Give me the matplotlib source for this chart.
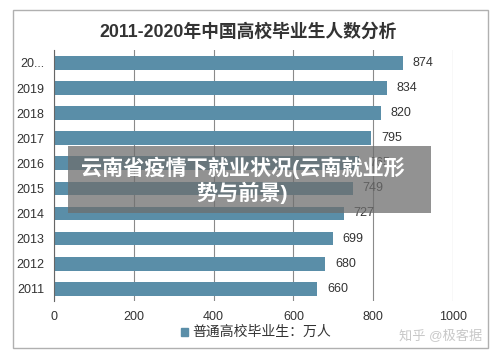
import matplotlib
matplotlib.use('Agg')
import matplotlib.pyplot as plt
from matplotlib.patches import Rectangle

plt.rcParams['font.family'] = ['Liberation Sans', 'Noto Sans CJK SC', 'DejaVu Sans']

# data
years = ['2011', '2012', '2013', '2014', '2015', '2016', '2017', '2018', '2019', '20...']
graduates = [660, 680, 699, 727, 749, 765, 795, 820, 834, 874]
xticks = [0, 200, 400, 600, 800, 1000]

title = '2011-2020年中国高校毕业生人数分析'
legend_label = '普通高校毕业生：万人'
overlay_text = '云南省疫情下就业状况(云南就业形\n势与前景)'
watermark = '知乎 @极客据'

bar_color = '#5a8ea8'

fig = plt.figure(figsize=(5, 3.6), dpi=100)
ax = fig.add_axes([0.108, 0.163, 0.798, 0.697])

pos = list(range(len(years)))
ax.barh(pos, graduates, height=0.55, color=bar_color, zorder=2)
for p, v in zip(pos, graduates):
    ax.annotate(str(v), (v, p), xytext=(7, 0), textcoords='offset points',
                va='center', ha='left', fontsize=9, color='#333333')

ax.set_xlim(0, 1000)
ax.set_ylim(-0.5, len(years) - 0.5)
ax.set_xticks(xticks)
ax.set_yticks(pos)
ax.set_yticklabels(years)
ax.tick_params(axis='both', length=0, labelsize=9, colors='#333333')
ax.tick_params(axis='x', pad=7)
ax.tick_params(axis='y', pad=7)
ax.grid(axis='x', color='#8a8a8a', linewidth=0.8, zorder=0)
for s in ['top', 'right', 'bottom']:
    ax.spines[s].set_visible(False)
ax.spines['left'].set_color('#666666')

fig.text(0.497, 0.911, title, ha='center', va='center', fontsize=12.8,
         fontweight='bold', color='#333333')

# legend
fig.patches.append(Rectangle((0.362, 0.068), 0.014, 0.02, transform=fig.transFigure,
                             color=bar_color, figure=fig))
fig.text(0.384, 0.078, legend_label, ha='left', va='center', fontsize=10, color='#333333')

# outer frame
fig.patches.append(Rectangle((0.026, 0.033), 0.95, 0.94, transform=fig.transFigure,
                             fill=False, edgecolor='#b0b0b0', linewidth=1, figure=fig))

# overlay banner
fig.patches.append(Rectangle((0.136, 0.408), 0.726, 0.186, transform=fig.transFigure,
                             facecolor='#6e6e6e', edgecolor='none', alpha=0.75,
                             zorder=5, figure=fig))
fig.text(0.485, 0.5, overlay_text, ha='center', va='center', fontsize=15.2,
         fontweight='bold', color='white', linespacing=1.15, zorder=6)

fig.text(0.882, 0.065, watermark, ha='center', va='center', fontsize=9.5,
         color='#c8c8c8')

fig.savefig('out.png', dpi=100)
